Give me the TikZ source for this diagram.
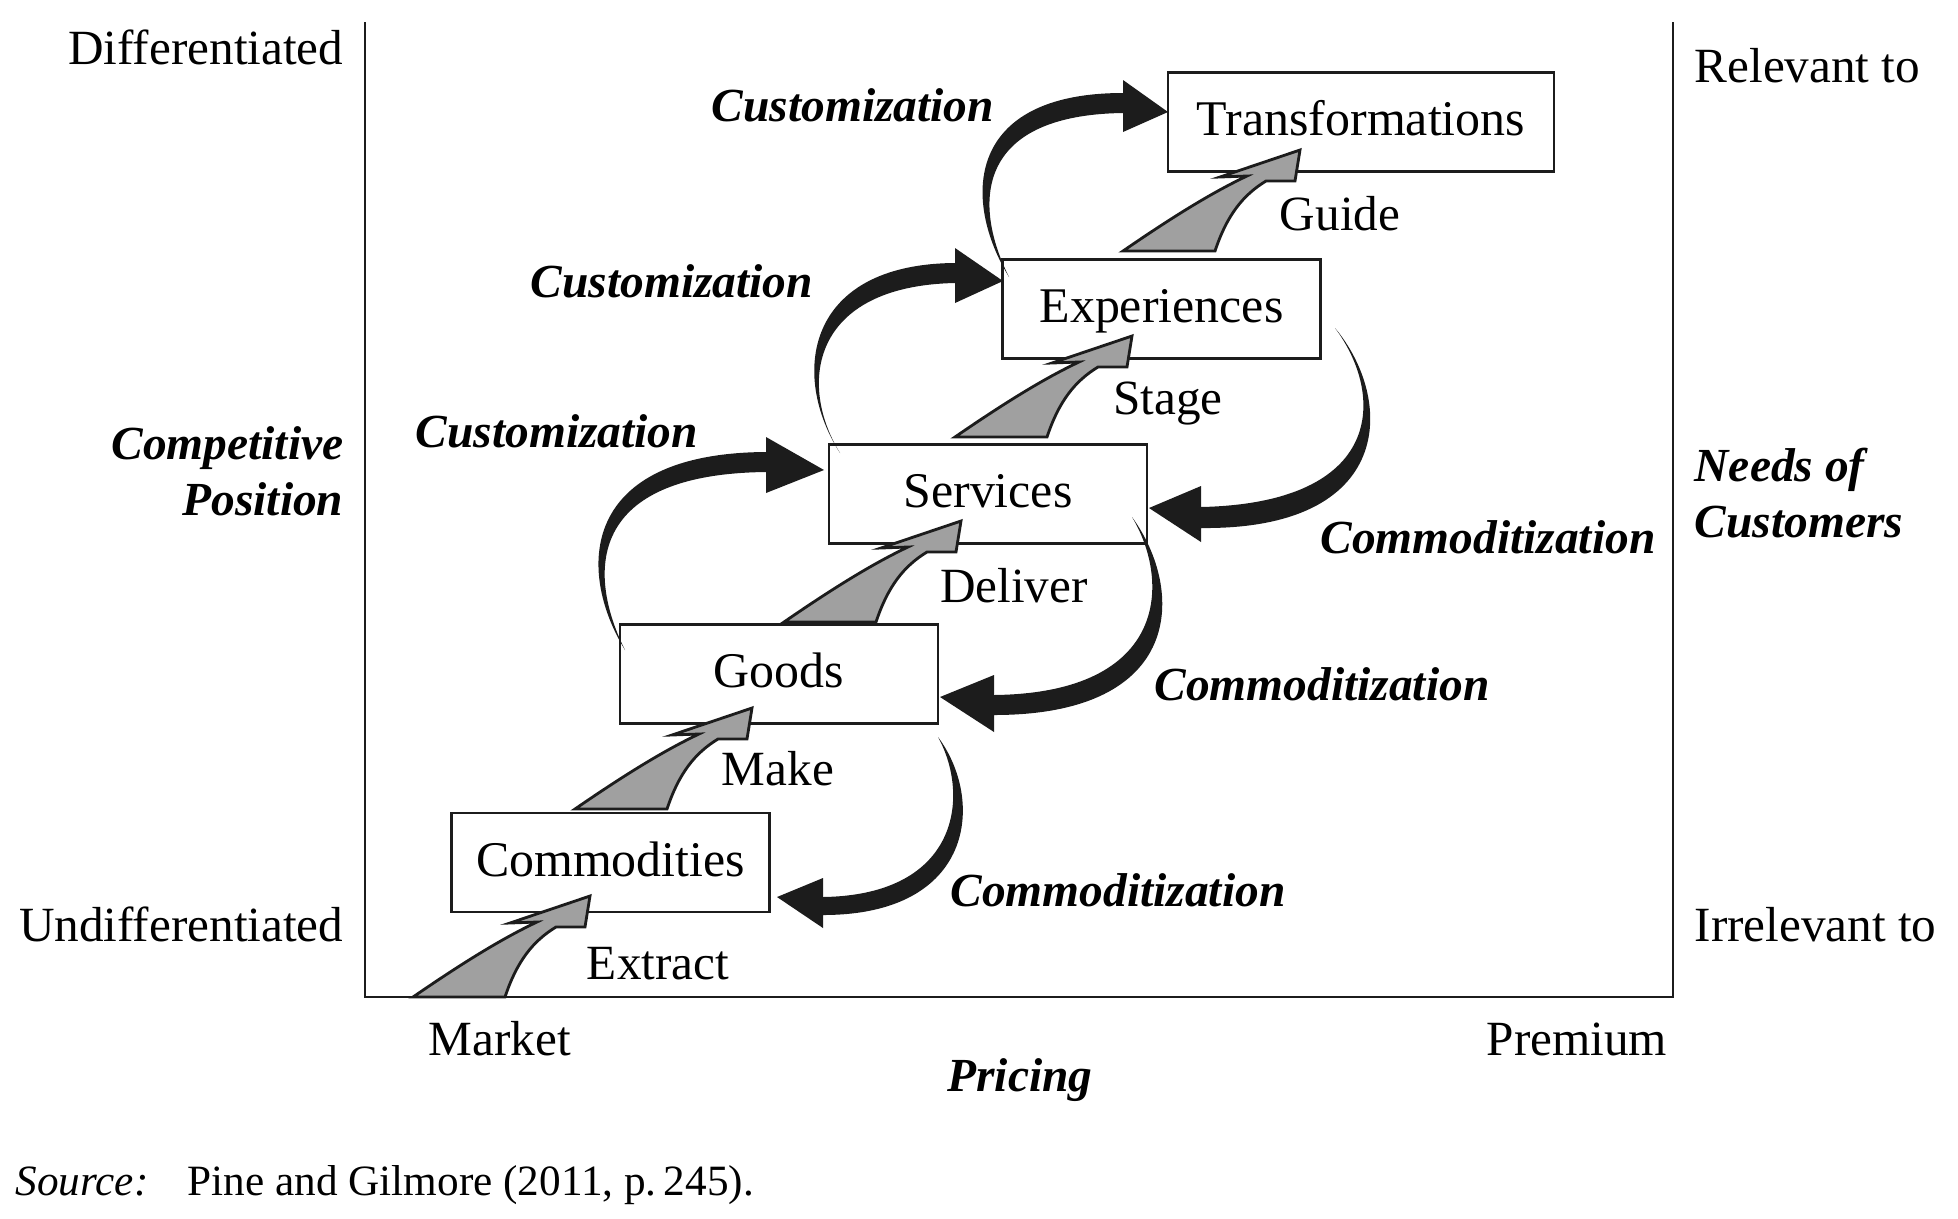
\documentclass[tikz,border=0pt]{standalone}
\usepackage{fontspec}
\setmainfont{Liberation Serif}
\definecolor{stepgray}{HTML}{A0A0A0}
\definecolor{ink}{HTML}{1C1C1C}
\tikzset{
  offering/.style={
    draw=ink,
    line width=0.8pt,
    minimum width=31.8mm,
    minimum height=9.9mm,
    inner sep=0pt,
    text height=3.3mm,
    text depth=0.6mm,
    font=\fontsize{14.2}{16}\selectfont
  },
  plain label/.style={
    inner sep=0pt,
    font=\fontsize{14}{16}\selectfont
  },
  shift label/.style={
    inner sep=0pt,
    align=center,
    font=\fontsize{13.5}{16}\selectfont\bfseries\itshape
  },
  bent arrow/.style={
    fill=ink
  },
  progression/.pic={
    \filldraw[fill=stepgray, draw=ink, line width=0.8pt]
      (0,0) -- (9.2,0) .. controls (10.4,-3.6) and (12,-5.6) .. (14.3,-7)
      -- (17.2,-7) -- (17.7,-10.1) -- (9.7,-7.4) -- (12.4,-7.5)
      .. controls (8.8,-5.8) and (4.8,-3.3) .. (0,0) -- cycle;
  }
}

\begin{document}
\begin{tikzpicture}[x=1mm, y=-1mm]
  \useasboundingbox (0,0) rectangle (195.8,121.8);
  \draw[ink, line width=0.8pt] (36.5,2.2) -- (36.5,99.7) -- (167.3,99.7) -- (167.3,2.2);

  \node[offering] (commodities) at (61.05,86.25) {Commodities};
  \node[offering] (goods) at (77.9,67.4) {Goods};
  \node[offering] (services) at (98.8,49.4) {Services};
  \node[offering] (experiences) at (116.15,30.9) {Experiences};
  \node[offering, minimum width=38.6mm] (transformations) at (136.1,12.2) {Transformations};

  \pic at (41.3,99.7) {progression};
  \pic at (57.5,80.9) {progression};
  \pic at (78.4,62.2) {progression};
  \pic at (95.5,43.7) {progression};
  \pic at (112.3,25.1) {progression};

  \fill[bent arrow] (62.5,65) .. controls (57.6,57) and (58,45.3) .. (76.6,45.2)
    -- (76.6,43.7) -- (82.4,47) -- (76.6,49.3) -- (76.6,47.2)
    .. controls (58,47.4) and (59,58) .. (62.5,65) -- cycle;
  \fill[bent arrow] (84,45.3) .. controls (79,37.5) and (80.5,26.4) .. (95.5,26.3)
    -- (95.5,24.8) -- (100.3,28.1) -- (95.5,30.3) -- (95.5,28.3)
    .. controls (81,28.6) and (79.8,38.5) .. (84,45.3) -- cycle;
  \fill[bent arrow] (100.9,27.7) .. controls (96.2,20) and (96.5,9.3) .. (112.3,9.3)
    -- (112.3,8) -- (116.8,11.2) -- (112.3,13.2) -- (112.3,11.3)
    .. controls (97.4,11.5) and (97.3,20.5) .. (100.9,27.7) -- cycle;

  \fill[bent arrow] (133.5,32.8) .. controls (139.5,40) and (139.5,53) .. (120.1,52.8)
    -- (120.1,54.2) -- (114.9,50.8) -- (120.1,48.6) -- (120.1,50.7)
    .. controls (138.5,50.3) and (138.5,39.5) .. (133.5,32.8) -- cycle;
  \fill[bent arrow] (113.2,51.7) .. controls (118.5,59) and (118.5,71.5) .. (99.4,71.5)
    -- (99.4,73.2) -- (94,69.7) -- (99.4,67.5) -- (99.4,69.5)
    .. controls (117,69.3) and (117,58) .. (113.2,51.7) -- cycle;
  \fill[bent arrow] (93.8,73.7) .. controls (98.5,80) and (97.5,91.5) .. (82.3,91.5)
    -- (82.3,92.8) -- (77.7,89.7) -- (82.3,87.8) -- (82.3,89.7)
    .. controls (96,89.5) and (97,79.5) .. (93.8,73.7) -- cycle;

  \node[shift label] (cust3) at (85.3,10.5) {Customization};
  \node[shift label] (cust2) at (67.2,28.1) {Customization};
  \node[shift label] (cust1) at (55.7,43.1) {Customization};
  \node[shift label] (comm3) at (148.8,53.7) {Commoditization};
  \node[shift label] (comm2) at (132.2,68.4) {Commoditization};
  \node[shift label] (comm1) at (111.8,89) {Commoditization};

  \node[plain label] (guide) at (134,21.4) {Guide};
  \node[plain label] (stage) at (116.8,40.4) {Stage};
  \node[plain label] (deliver) at (101.4,58.6) {Deliver};
  \node[plain label] (make) at (77.8,76.9) {Make};
  \node[plain label] (extract) at (65.8,96.4) {Extract};

  \node[plain label, anchor=east] (differentiated) at (34.4,4.7) {Differentiated};
  \node[plain label, anchor=east] (undifferentiated) at (34.4,92.4) {Undifferentiated};
  \node[shift label, anchor=east, align=right] (position) at (34.4,47.1) {Competitive\\Position};
  \node[plain label, anchor=west] (relevant) at (169.4,6.6) {Relevant to};
  \node[plain label, anchor=west] (irrelevant) at (169.4,92.5) {Irrelevant to};
  \node[shift label, anchor=west, align=left] (needs) at (169.4,49.3) {Needs of\\Customers};
  \node[plain label] (market) at (50,103.9) {Market};
  \node[plain label] (premium) at (157.7,103.9) {Premium};
  \node[shift label] (pricing) at (102,108) {Pricing};

  \node[plain label, anchor=base west, font=\fontsize{12.3}{14}\selectfont\itshape] (sourcetag) at (1.5,119.5) {Source:};
  \node[plain label, anchor=base west, font=\fontsize{12.3}{14}\selectfont] (sourcetext) at (18.7,119.5) {Pine and Gilmore (2011, p.\,245).};
\end{tikzpicture}
\end{document}
